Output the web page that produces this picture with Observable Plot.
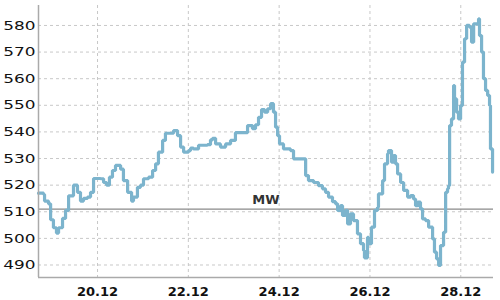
<!DOCTYPE html>
<html>
<head>
<meta charset="utf-8">
<script src="https://cdn.jsdelivr.net/npm/d3@7"></script>
<script src="https://cdn.jsdelivr.net/npm/@observablehq/plot@0.6"></script>
<style>
  html, body { margin: 0; padding: 0; background: #fff; }
  #chart svg { display: block; }
</style>
</head>
<body>
<div id="chart"></div>
<script>
// Hours elapsed since 18.12.2023 00:00 (UTC)
const hours = [
  16.8,19.5,20.0,22.1,23.2,24.7,26.3,27.4,29.5,31.1,
  32.7,35.3,37.4,39.0,40.6,42.7,44.3,45.9,49.6,51.2,
  52.8,54.3,55.9,57.5,58.6,60.2,61.7,63.9,66.0,67.0,
  69.1,70.7,72.3,75.0,77.1,78.7,80.2,82.4,83.9,86.6,
  88.2,90.3,91.9,93.5,96.1,97.2,98.7,101.4,106.1,107.7,
  108.8,110.4,113.0,115.7,118.3,120.9,125.2,127.3,129.9,131.5,
  133.1,134.7,136.3,137.9,139.5,141.0,142.1,143.2,144.2,146.3,
  147.9,150.0,151.6,156.4,158.0,159.5,162.2,164.8,166.9,168.5,
  170.1,172.2,173.8,174.9,176.5,177.5,179.1,180.2,181.7,183.3,
  185.4,187.0,188.6,189.1,190.7,191.3,192.8,194.4,196.0,196.5,
  198.7,199.7,201.3,201.8,203.4,204.5,205.5,206.6,208.2,209.8,
  211.9,213.5,215.0,216.1,217.2,218.7,219.8,221.4,223.0,225.1,
  226.1,227.2,228.3,229.3,230.9,232.0,233.0,233.5,234.1,235.1,
  236.2,236.7,237.8,238.8,239.9,240.9,242.0,243.1,244.6,245.7,
  246.8,248.3,249.4,249.9,251.0,252.0,253.1,254.2,255.2,255.7,
  256.8
];
const values = [
  517,516.5,514,513,507,504,502,504,507.5,510.5,
  516,520,517.3,514,515,515.5,517.3,522.5,522.4,521,
  520,523,525.5,527.4,527.4,526,521.7,517.3,514,515.5,
  519.2,520,522.4,523,525.5,528,532.4,536.8,539.5,539.5,
  540.5,538.6,534.3,532.4,533,533.9,533.6,535,535.2,537,
  537.6,535.5,534.3,535.5,536.8,539.7,539.7,542.4,541.2,542.7,
  545.5,548.4,547.4,548.7,550.6,547.4,541.8,538.6,535.5,533.6,
  533.6,533,529.9,529.9,523.6,521.7,521,519.8,518.6,517.3,
  515.5,513.8,513,510.5,512.3,508.6,510.5,505.4,509.2,506.7,
  501.7,498,495.4,492.7,500.4,498,504.2,510.5,511.7,516.7,
  521.7,528,531.8,533,528.6,531.1,528,524.2,521,518,
  515.5,516.1,514.8,512.3,513.6,511.1,507.3,506.7,504.2,499.8,
  494.8,492.3,489.8,497.3,502.3,517.3,518.6,519.8,542.4,544.9,
  557.4,552.4,547.4,544.9,549.9,566.2,575,580,579.4,573.7,
  580.6,580.6,582.5,576.2,570,560,555.6,553.7,549.9,533.6,
  524.9
];
const xTickLabels = ["2023-12-20","2023-12-22","2023-12-24","2023-12-26","2023-12-28"];
const yTickValues = [490,500,510,520,530,540,550,560,570,580];
const mwValue = 511;
const mwLabel = "MW";
const xDomainHours = [16.8, 257.3];
const yDomain = [485.3, 587.5];

const base = Date.UTC(2023, 11, 18);
const toDate = h => new Date(base + h * 3600000);
const data = hours.map((h, i) => ({date: toDate(h), value: values[i]}));
const xTicks = xTickLabels.map(s => new Date(s + "T00:00:00Z"));
const xDomain = xDomainHours.map(toDate);

const grid = {stroke: "#c8c8c8", strokeOpacity: 1, strokeDasharray: "3,3", strokeWidth: 1};

const chart = Plot.plot({
  width: 500,
  height: 300,
  marginLeft: 38,
  marginRight: 7,
  marginTop: 5,
  marginBottom: 23,
  style: {fontFamily: "DejaVu Sans", fontSize: "13px", color: "#111", background: "#fff"},
  x: {type: "utc", domain: xDomain},
  y: {domain: yDomain},
  marks: [
    Plot.gridX(xTicks, {...grid}),
    Plot.gridY(yTickValues, {...grid}),
    Plot.ruleY([mwValue], {stroke: "#8a8a8a", strokeWidth: 1.2}),
    Plot.text([mwLabel], {y: [mwValue], text: d => d, frameAnchor: "middle", dy: -9, fontWeight: "bold", fill: "#333", fontSize: 13}),
    Plot.line(data, {x: "date", y: "value", curve: "step-after", stroke: "#7cb4cd", strokeWidth: 3.2, strokeLinejoin: "miter"}),
    Plot.axisX(xTicks, {tickSize: 0, tickPadding: 9, tickFormat: d3.utcFormat("%d.%m"), label: null, fontWeight: "bold", fontSize: 13}),
    Plot.axisY(yTickValues, {tickSize: 0, tickPadding: 3, label: null, fontSize: 13}),
    Plot.ruleX([xDomain[0]], {stroke: "#aaa", strokeWidth: 1.5}),
    Plot.ruleY([yDomain[0]], {stroke: "#aaa", strokeWidth: 1.5})
  ]
});
document.getElementById("chart").appendChild(chart);

// widen the y tick labels horizontally (glyphs stretched, right end kept)
d3.select(chart).selectAll('g[aria-label="y-axis tick label"] text').each(function() {
  const w = this.getComputedTextLength();
  if (w > 0) {
    this.setAttribute("textLength", (w * 1.3).toFixed(1));
    this.setAttribute("lengthAdjust", "spacingAndGlyphs");
  }
});
</script>
</body>
</html>
